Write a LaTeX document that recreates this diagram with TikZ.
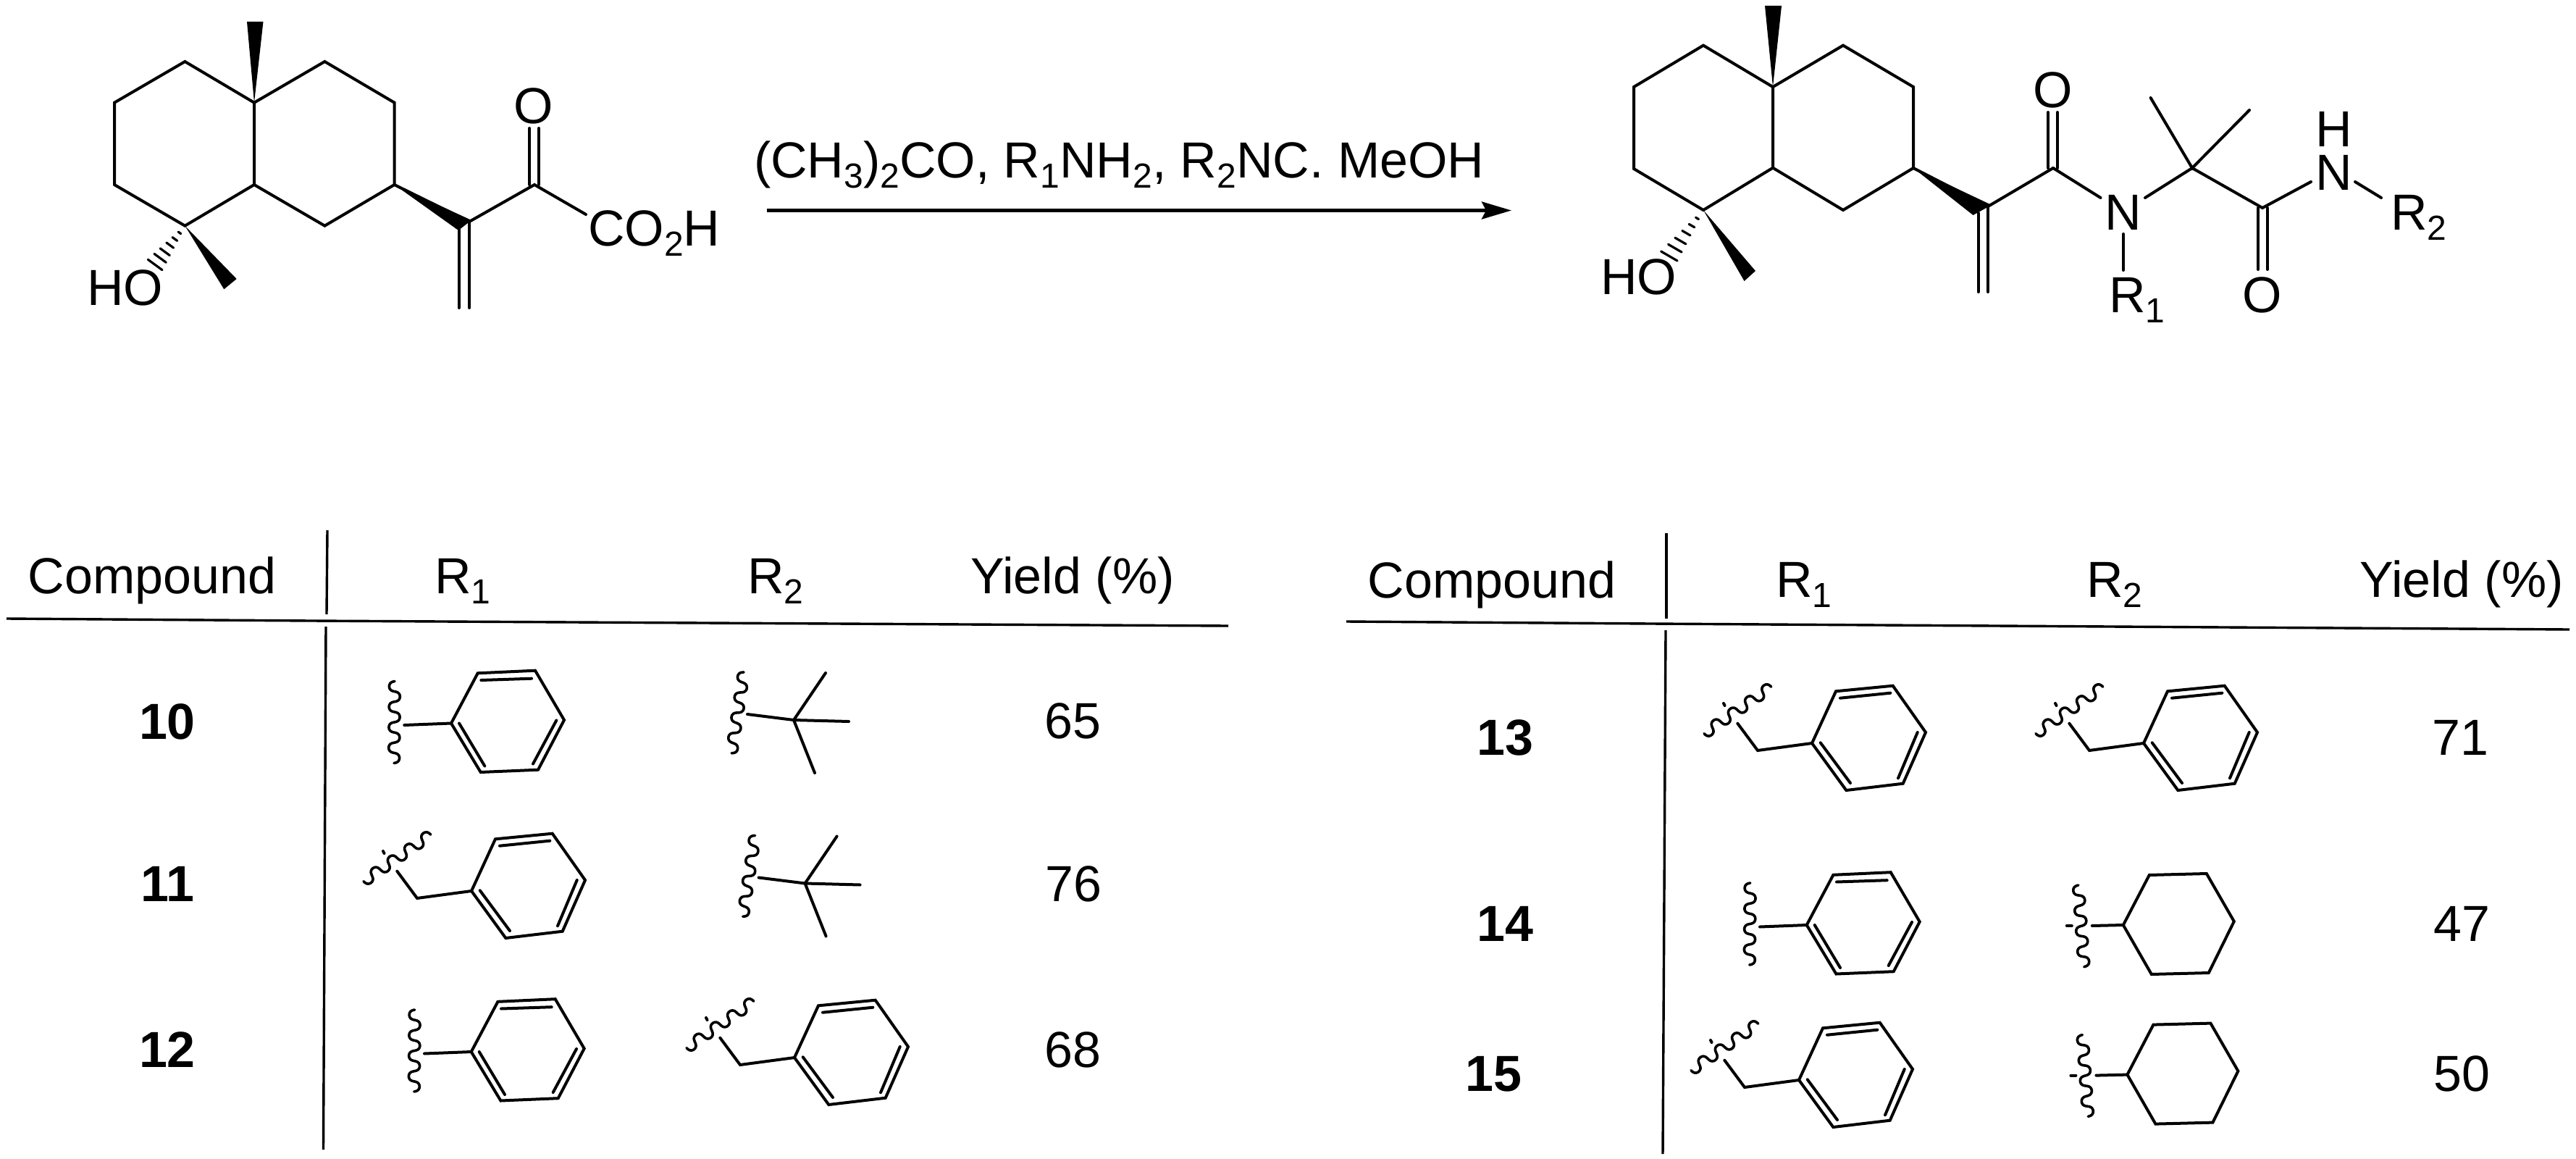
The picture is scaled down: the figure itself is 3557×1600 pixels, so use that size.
\documentclass[tikz,border=0pt]{standalone}
\usepackage{fontspec}
\setmainfont{Liberation Sans}
\usetikzlibrary{arrows.meta,calc}
\newcommand{\lowidx}[1]{\raisebox{-14pt}{\fontsize{48}{50}\selectfont #1}}
\newcommand{\hashbond}[7]{% apex x y, far-side a x y, far-side b x y, fractions
  \foreach \t in {#7} {\draw[line width=3.2pt,line cap=round] ($(#1,#2)!\t!(#3,#4)$) -- ($(#1,#2)!\t!(#5,#6)$);}}
\newcommand{\squiggle}[2]{% start point, page angle
  \begin{scope}[shift={(#1)},rotate=#2]
    \draw[wave] plot[domain=0:113,samples=130,variable=\t] ({\t-1.5*sin(2*\t/28.25*360)},{7.5*sin(\t/28.25*360)});
  \end{scope}}
\tikzset{
  x=1pt,y=-1pt,
  bond/.style={line width=4pt,line join=miter,line cap=round},
  rule/.style={line width=3.4pt},
  wave/.style={line width=3.6pt,line cap=round,line join=round},
  lab/.style={inner sep=0pt,outer sep=0pt,anchor=base,font=\fontsize{70}{84}\selectfont},
  labw/.style={inner sep=0pt,outer sep=0pt,anchor=base west,font=\fontsize{70}{84}\selectfont},
  atom/.style={inner sep=0pt,outer sep=0pt,anchor=base,font=\fontsize{70}{84}\selectfont},
  atomw/.style={inner sep=0pt,outer sep=0pt,anchor=base west,font=\fontsize{70}{84}\selectfont},
  num/.style={inner sep=0pt,outer sep=0pt,anchor=base,font=\fontsize{70}{84}\selectfont\bfseries},
}
\newcommand{\phenyl}[1]{%
  \begin{scope}[shift={(#1)}]
    \draw[bond] (0,0) -- (36.7,-69.2) -- (116,-72.8) -- (156,-4.5) -- (120,64.2) -- (40.7,67.5) -- cycle;
    \draw[bond] (41.3,-59.5) -- (111,-61.8);
    \draw[bond] (145.3,-4) -- (113,56);
    \draw[bond] (11,0) -- (46.3,59);
    \draw[bond] (0,0) -- (-64.7,2.5);
    \squiggle{-78,-58}{-90.5}
  \end{scope}}
\newcommand{\benzyl}[1]{%
  \begin{scope}[shift={(#1)}]
    \draw[bond] (0,0) -- (33,-71.7) -- (111.7,-79.3) -- (157,-15) -- (125.7,55.7) -- (47.3,65) -- cycle;
    \draw[bond] (39,-62.3) -- (108.3,-69.3);
    \draw[bond] (145.7,-15) -- (119,48.3);
    \draw[bond] (11.7,-0.7) -- (53,55);
    \draw[bond] (0,0) -- (-75,10) -- (-102.7,-27.3);
    \draw[bond] (-122,-55) -- (-120.5,-52);
    \squiggle{-149,-13.3}{34.8}
  \end{scope}}
\newcommand{\cyclohexyl}[1]{%
  \begin{scope}[shift={(#1)}]
    \draw[bond] (0,0) -- (36,-69) -- (115,-71) -- (153,-5) -- (118,66) -- (39,68) -- cycle;
    \draw[bond] (0,0) -- (-43,1);
    \squiggle{-62,-55}{-86}
    \draw[bond] (-78,1) -- (-71,1);
  \end{scope}}
\newcommand{\tbutyl}[1]{%
  \begin{scope}[shift={(#1)}]
    \draw[bond] (-64,-8) -- (0,0) -- (76,2);
    \draw[bond] (44,-65) -- (0,0) -- (29,73);
    \squiggle{-69,-66}{-98.6}
  \end{scope}}
\begin{document}
\begin{tikzpicture}
\useasboundingbox (0,0) rectangle (3557,1600);
\fill[white] (0,0) rectangle (3557,1600);

% ---------- left molecule
\coordinate (la) at (255.4,85);
\coordinate (lb) at (158,141.7);
\coordinate (lc) at (158,255);
\coordinate (ld) at (255.4,311.7);
\coordinate (le) at (351,255);
\coordinate (lf) at (351,141.7);
\coordinate (lg) at (448.4,85);
\coordinate (lh) at (544.6,141.7);
\coordinate (li) at (544.6,255);
\coordinate (lj) at (448.4,311.7);
\coordinate (lk) at (648,306);
\coordinate (lc1) at (738,255);
\draw[bond] (lf) -- (la) -- (lb) -- (lc) -- (ld) -- (le) -- (lf) -- (lg) -- (lh) -- (li) -- (lj) -- (le);
\fill (lf) -- (341,30) -- (363.5,30) -- cycle;
\fill (li) -- (633,318) -- (651,304) -- cycle;
\fill (ld) -- (326.7,385) -- (309.3,399.3) -- cycle;
\hashbond{255.4}{311.7}{204.3}{358.3}{224}{372.7}{0.18,0.34,0.5,0.67,0.83,1.0}
\draw[bond] (li) -- (lk) -- (lc1) -- (809,296);
\draw[bond] (633.7,314) -- (633.7,425);
\draw[bond] (648,306) -- (648,425);
\draw[bond] (731,255) -- (731,177);
\draw[bond] (744,255) -- (744,177);
\node[atom] (lO) at (737,170) {O};
\node[atomw] (lCO) at (812,339) {CO\lowidx{2}H};
\node[atomw] (lHO) at (120,421) {HO};

% ---------- reaction arrow
\node[labw] (rxn) at (1041,245) {(CH\lowidx{3})\lowidx{2}CO, R\lowidx{1}NH\lowidx{2}, R\lowidx{2}NC. MeOH};
\coordinate (arrA) at (1059,290.5);
\coordinate (arrB) at (2087,290.5);
\draw[line width=4.5pt,-{Stealth[length=41pt,width=24pt,inset=6pt]}] (arrA) -- (arrB);

% ---------- right molecule
\coordinate (ra) at (2352,62.7);
\coordinate (rb) at (2256,120);
\coordinate (rc) at (2256,233);
\coordinate (rd) at (2352,290);
\coordinate (re) at (2448,231.7);
\coordinate (rf) at (2448,120);
\coordinate (rg) at (2545,62.7);
\coordinate (rh) at (2642,120);
\coordinate (ri) at (2642,232);
\coordinate (rj) at (2545,290);
\coordinate (rk) at (2745,285);
\coordinate (rc1) at (2835,232);
\coordinate (rcq) at (3027,232);
\coordinate (rc2) at (3124,287);
\draw[bond] (rf) -- (ra) -- (rb) -- (rc) -- (rd) -- (re) -- (rf) -- (rg) -- (rh) -- (ri) -- (rj) -- (re);
\fill (rf) -- (2437,8) -- (2460,8) -- cycle;
\fill (ri) -- (2724.5,297) -- (2750,283) -- cycle;
\fill (rd) -- (2424,374) -- (2408.5,388) -- cycle;
\hashbond{2352}{290}{2293.6}{347}{2316}{360}{0.18,0.34,0.5,0.67,0.83,1.0}
\draw[bond] (ri) -- (rk) -- (rc1);
\draw[bond] (2731.7,294) -- (2731.7,403);
\draw[bond] (2745,285) -- (2745,403);
\draw[bond] (2828,232) -- (2828,155);
\draw[bond] (2841,232) -- (2841,155);
\node[atom] (rO1) at (2835,149) {O};
\node[atom] (rN1) at (2932,317) {N};
\node[atomw] (rR1) at (2912,431) {R\lowidx{1}};
\node[atom] (rO2) at (3124,431) {O};
\node[atom] (rN2) at (3223,262) {N};
\node[atom] (rH) at (3223,202) {H};
\node[atomw] (rR2) at (3301,317) {R\lowidx{2}};
\node[atomw] (rHO) at (2210,406) {HO};
\draw[bond] (rc1) -- (2900.5,273);
\draw[bond] (2932,323) -- (2932,373);
\draw[bond] (2962,273) -- (rcq);
\draw[bond] (2969.6,135) -- (rcq) -- (3106,152);
\draw[bond] (rcq) -- (rc2) -- (3191,251);
\draw[bond] (3118,287) -- (3118,372);
\draw[bond] (3131,287) -- (3131,372);
\draw[bond] (3252,251) -- (3288,273);

% ---------- left table
\node[lab] (c1) at (210,819) {Compound};
\node[labw] (r11) at (600,819) {R\lowidx{1}};
\node[labw] (r21) at (1032,819) {R\lowidx{2}};
\node[lab] (y1) at (1481,819) {Yield (\%)};
\draw[rule] (452,732) -- (451,848);
\draw[rule] (450,865) -- (446.5,1587);
\draw[rule] (9,854) -- (430,857) -- (1696,864);
\node[num] (n10) at (231,1020) {10};
\node[num] (n11) at (231,1244) {11};
\node[num] (n12) at (231,1473) {12};
\node[lab] (v10) at (1481,1019) {65};
\node[lab] (v11) at (1482,1244) {76};
\node[lab] (v12) at (1481,1473) {68};
\phenyl{623,998.5}
\tbutyl{1096,994}
\benzyl{651,1230}
\tbutyl{1111.6,1219.5}
\phenyl{650.7,1452}
\benzyl{1097,1460}

% ---------- right table
\node[lab] (c2) at (2060,825) {Compound};
\node[labw] (r12) at (2452,824) {R\lowidx{1}};
\node[labw] (r22) at (2881,824) {R\lowidx{2}};
\node[lab] (y2) at (3399,824) {Yield (\%)};
\draw[rule] (2301,736) -- (2301,854);
\draw[rule] (2300,870) -- (2296,1593);
\draw[rule] (1859,858) -- (2280,861) -- (3548,869);
\node[num] (n13) at (2078,1042) {13};
\node[num] (n14) at (2078,1299) {14};
\node[num] (n15) at (2062,1506) {15};
\node[lab] (v13) at (3397,1042) {71};
\node[lab] (v14) at (3399,1299) {47};
\node[lab] (v15) at (3399,1506) {50};
\benzyl{2502,1026}
\benzyl{2960,1026}
\phenyl{2494.7,1277}
\cyclohexyl{2931.8,1277}
\benzyl{2484,1491}
\cyclohexyl{2937.4,1483.6}
\end{tikzpicture}
\end{document}
